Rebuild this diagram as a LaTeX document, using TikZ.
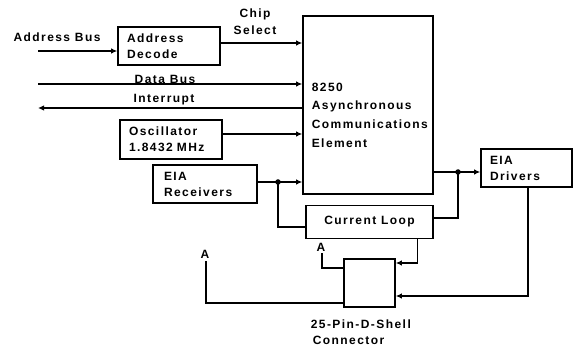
\documentclass[tikz,border=0pt]{standalone}
\usepackage{fontspec}
\setmainfont{Liberation Sans}[LetterSpace=12]
\usetikzlibrary{arrows.meta,calc}
\begin{document}
\begin{tikzpicture}[x=1pt,y=-1pt, line width=1.6pt,
  box/.style={draw, rectangle, inner sep=0pt},
  txt/.style={font=\fontsize{12}{16}\selectfont\bfseries, align=left},
  lbl/.style={font=\fontsize{12}{16}\selectfont\bfseries, inner sep=0pt},
  arr/.style={-{Latex[length=6pt,width=5.5pt]}},
  jdot/.style={circle, fill, inner sep=0pt, minimum size=5.5pt}]
\useasboundingbox (0,0) rectangle (573,347);

% boxes
\node[box, txt, minimum width=102pt, minimum height=38pt, text width=84pt] (adec) at (169,46) {Address\\Decode};
\node[box, minimum width=130pt, minimum height=178pt] (ace) at (368,105) {};
\node[lbl, anchor=north west, align=left, font=\fontsize{12}{18.7}\selectfont\bfseries] (acetext) at (311,82) {8250\\Asynchronous\\Communications\\Element};
\node[box, txt, minimum width=102pt, minimum height=39pt, text width=84pt] (osc) at (171,139.5) {Oscillator\\1.8432 MHz};
\node[box, txt, minimum width=104pt, minimum height=38pt, text width=82pt] (rec) at (205,184) {EIA\\Receivers};
\node[box, txt, minimum width=91pt, minimum height=38pt, text width=73pt] (drv) at (526.5,168) {EIA\\Drivers};
\node[box, txt, align=center, minimum width=127pt, minimum height=33pt] (cl) at (369.5,222) {Current Loop};
\node[box, minimum width=51pt, minimum height=48pt] (conn) at (369.5,283) {};

% labels
\node[lbl] (labus) at (57,37) {Address Bus};
\node[lbl] (lchip) at (255,14) {Chip};
\node[lbl] (lsel) at (255,30) {Select};
\node[lbl] (ldata) at (165,79) {Data Bus};
\node[lbl] (lint) at (164,100) {Interrupt};
\node[lbl, anchor=west] (lconn1) at (310,324) {25-Pin-D-Shell};
\node[lbl, anchor=west] (lconn2) at (312,340) {Connector};
\node[lbl] (la1) at (321,247) {A};
\node[lbl] (la2) at (205,254) {A};

% free ends
\coordinate (abusin) at (38,51);
\coordinate (dbusin) at (38,84);
\coordinate (intout) at (38,108);
\coordinate (j1) at (278,182);
\coordinate (j2) at (458,172);
\coordinate (a1end) at (322,253);
\coordinate (a2end) at (206,261);

% connectors
\draw[arr] (abusin) -- (abusin -| adec.west);
\draw[arr] ([yshift=3pt]adec.east) -- ([yshift=3pt]adec.east -| ace.west);
\draw[arr] (dbusin) -- (dbusin -| ace.west);
\draw[arr] (intout -| ace.west) -- (intout);
\draw[arr] ([yshift=5.5pt]osc.east) -- ([yshift=5.5pt]osc.east -| ace.west);
\draw (j1 -| rec.east) -- (j1);
\draw[arr] (j1) -- (j1 -| ace.west);
\draw (j1) |- ([yshift=-5pt]cl.west);
\node[jdot] (d1) at (j1) {};
\draw (j2 -| ace.east) -- (j2);
\draw[arr] (j2) -- (j2 -| drv.west);
\draw (j2) |- ([yshift=4pt]cl.east);
\node[jdot] (d2) at (j2) {};
\draw[arr] ([xshift=48pt]cl.south) |- ([yshift=20pt]conn.east);
\draw[arr] ([xshift=1.5pt]drv.south) |- ([yshift=-13pt]conn.east);
\draw ([yshift=15pt]conn.west) -| (a1end);
\draw ([yshift=-20pt]conn.west) -| (a2end);
\end{tikzpicture}
\end{document}
